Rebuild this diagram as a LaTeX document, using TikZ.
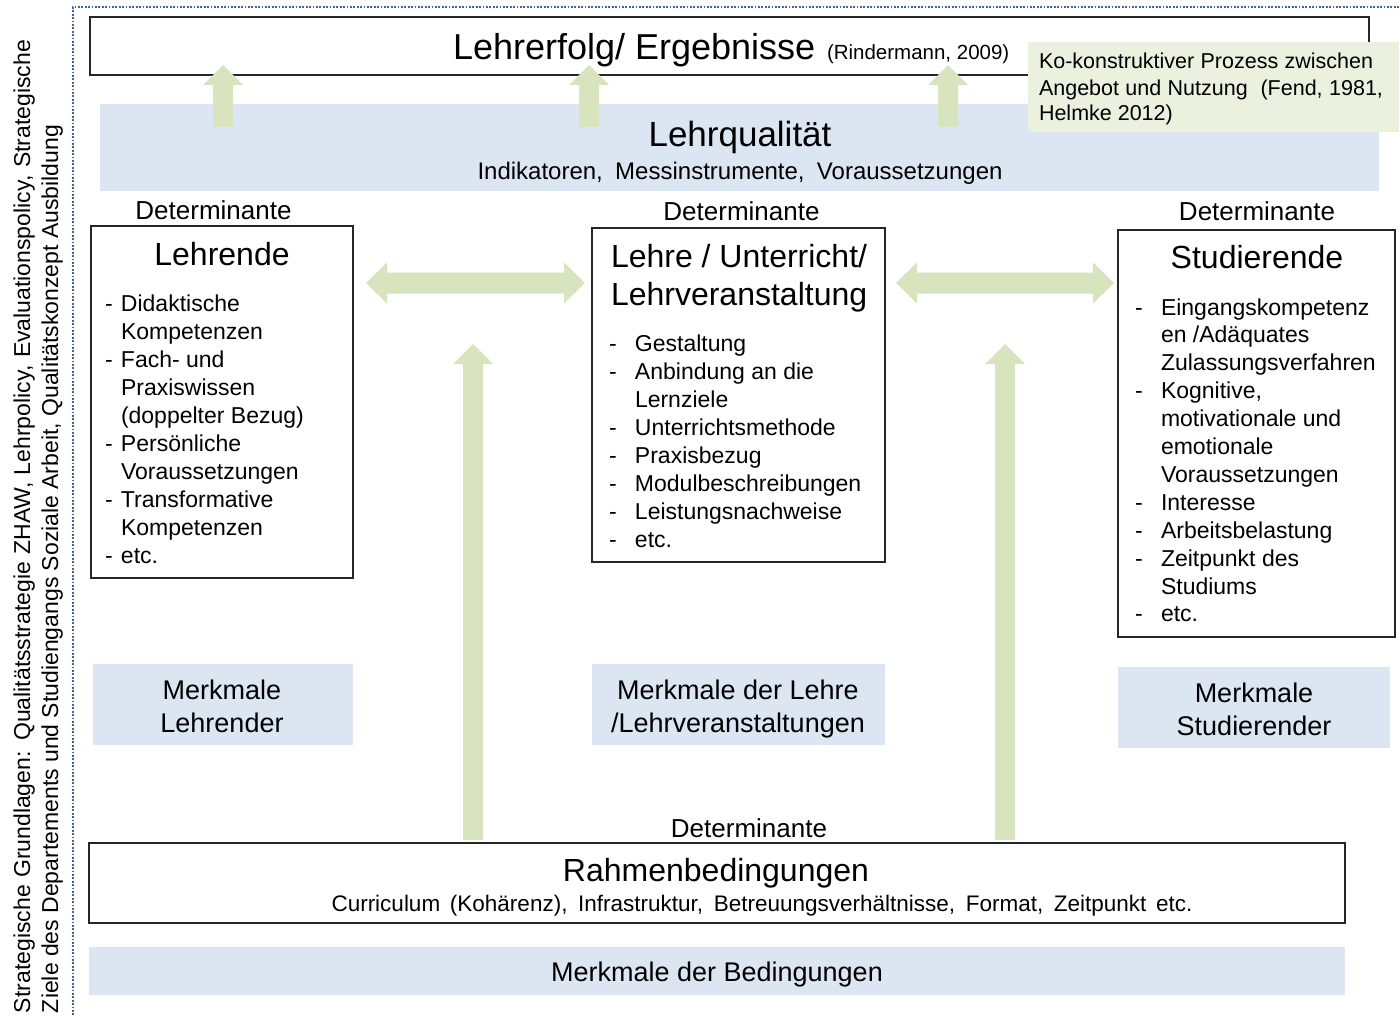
\documentclass[tikz,border=0pt]{standalone}
\usepackage{fontspec}
\setmainfont{Liberation Sans}
\definecolor{agreen}{HTML}{D7E4BD}
\definecolor{bandblue}{HTML}{DCE6F2}
\definecolor{calloutc}{HTML}{EBF1DE}
\definecolor{dotblue}{HTML}{41659A}
\newcommand\myfs[2]{\fontsize{#1}{#2}\selectfont}
\newcommand\itm[1]{\makebox[#1][l]{-}}
\newcommand\cnt[1]{\makebox[#1]{}}
\begin{document}
\begin{tikzpicture}[x=1pt,y=-1pt,
  bx/.style={draw=black!85, line width=1.4pt, anchor=north west, inner sep=0pt, outer sep=0pt},
  band/.style={fill=bandblue, anchor=north west, inner sep=0pt, outer sep=0pt},
  txt/.style={inner sep=0pt, outer sep=0pt, anchor=base},
  txtl/.style={inner sep=0pt, outer sep=0pt, anchor=base west}]
\useasboundingbox (0,0) rectangle (1399,1016);

% frame
\draw[dotblue, line width=2.8pt, dash pattern=on 1.8pt off 1.6pt] (1399,7) -- (73,7) -- (73,1016);

% side text
\node[txtl, rotate=90, font=\myfs{23}{28}] (strat1) at (30,1013)
  {\makebox[973pt][s]{Strategische Grundlagen: Qualitätsstrategie ZHAW, Lehrpolicy, Evaluationspolicy, Strategische}};
\node[txtl, rotate=90, font=\myfs{23}{28}] (strat2) at (58,1013)
  {\makebox[888pt][s]{Ziele des Departements und Studiengangs Soziale Arbeit, Qualitätskonzept Ausbildung}};

% boxes
\node[bx, minimum width=1279pt, minimum height=58pt] (top) at (90,17) {};
\node[band, minimum width=1279pt, minimum height=87pt] (lq) at (100,104) {};

% top arrows
\foreach \cx in {223,589,948}
  \fill[agreen] ({\cx-10},127) -- ({\cx-10},85) -- ({\cx-20},85) -- (\cx,65) -- ({\cx+20},85) -- ({\cx+10},85) -- ({\cx+10},127) -- cycle;

\node[fill=calloutc, anchor=north west, inner sep=0pt, minimum width=371pt, minimum height=90pt] (callout) at (1028,42) {};

\node[txtl, font=\myfs{36}{40}] (lerf) at (453,60) {Lehrerfolg/ Ergebnisse};
\node[txtl, font=\myfs{20.5}{24}] (rind) at (827,60) {(Rindermann, 2009)};

\node[txtl, font=\myfs{21.5}{26}] (c1) at (1039,68.5) {\makebox[334pt][s]{Ko-konstruktiver Prozess zwischen}};
\node[txtl, font=\myfs{21.5}{26}] (c2) at (1039,95.5) {\makebox[344pt][s]{Angebot und Nutzung\ \ (Fend, 1981,}};
\node[txtl, font=\myfs{21.5}{26}] (c3) at (1039,121) {Helmke 2012)};

\node[txt, font=\myfs{35}{40}] (lqt) at (740,146.5) {Lehrqualität};
\node[txt, font=\myfs{24}{28}] (lqs) at (740,179.5) {\makebox[525pt][s]{Indikatoren, Messinstrumente, Voraussetzungen}};

% Determinante labels
\node[txt, font=\myfs{26}{30}] (d1) at (213.5,219.5) {Determinante};
\node[txt, font=\myfs{26}{30}] (d2) at (741.5,220.5) {Determinante};
\node[txt, font=\myfs{26}{30}] (d3) at (1257,220.5) {Determinante};
\node[txt, font=\myfs{26}{30}] (d4) at (749,837.5) {Determinante};

% three main boxes
\node[bx, minimum width=262pt, minimum height=352pt] (lehrende) at (91,226) {};
\node[bx, minimum width=293pt, minimum height=334pt] (lehre) at (592,228) {};
\node[bx, minimum width=277pt, minimum height=407pt] (stud) at (1118,230) {};

\node[txt, font=\myfs{32}{37}] (t1) at (222,265.5) {Lehrende};
\node[txtl] (t2) at (611,268) {\parbox[t]{280pt}{\myfs{32}{37}Lehre / Unterricht/\\Lehrveranstaltung}};
\node[txt, font=\myfs{32}{37}] (t3) at (1257,269) {Studierende};

\node[txtl] (l1) at (105,311) {\parbox[t]{240pt}{\myfs{23}{28}%
\itm{16pt}Didaktische\\
\cnt{16pt}Kompetenzen\\
\itm{16pt}Fach- und\\
\cnt{16pt}Praxiswissen\\
\cnt{16pt}(doppelter Bezug)\\
\itm{16pt}Persönliche\\
\cnt{16pt}Voraussetzungen\\
\itm{16pt}Transformative\\
\cnt{16pt}Kompetenzen\\
\itm{16pt}etc.}};

\node[txtl] (l2) at (609,351) {\parbox[t]{270pt}{\myfs{23}{28}%
\itm{26pt}Gestaltung\\
\itm{26pt}Anbindung an die\\
\cnt{26pt}Lernziele\\
\itm{26pt}Unterrichtsmethode\\
\itm{26pt}Praxisbezug\\
\itm{26pt}Modulbeschreibungen\\
\itm{26pt}Leistungsnachweise\\
\itm{26pt}etc.}};

\node[txtl] (l3) at (1135,315) {\parbox[t]{260pt}{\myfs{23}{27.9}%
\itm{26pt}Eingangskompetenz\\
\cnt{26pt}en /Adäquates\\
\cnt{26pt}Zulassungsverfahren\\
\itm{26pt}Kognitive,\\
\cnt{26pt}motivationale und\\
\cnt{26pt}emotionale\\
\cnt{26pt}Voraussetzungen\\
\itm{26pt}Interesse\\
\itm{26pt}Arbeitsbelastung\\
\itm{26pt}Zeitpunkt des\\
\cnt{26pt}Studiums\\
\itm{26pt}etc.}};

% horizontal double arrows
\foreach \xa/\xb in {366/585, 896/1114}
  \fill[agreen] (\xa,283) -- ({\xa+21},262.5) -- ({\xa+21},272.5) -- ({\xb-21},272.5) -- ({\xb-21},262.5) -- (\xb,283)
     -- ({\xb-21},303.5) -- ({\xb-21},293.5) -- ({\xa+21},293.5) -- ({\xa+21},303.5) -- cycle;

% vertical arrows
\foreach \cx in {473,1005}
  \fill[agreen] ({\cx-10},840) -- ({\cx-10},364) -- ({\cx-20},364) -- (\cx,344) -- ({\cx+20},364) -- ({\cx+10},364) -- ({\cx+10},840) -- cycle;

% Merkmale boxes
\node[band, minimum width=260pt, minimum height=81pt] (m1) at (93,664) {};
\node[band, minimum width=293pt, minimum height=81pt] (m2) at (592,664) {};
\node[band, minimum width=272pt, minimum height=81pt] (m3) at (1118,667) {};
\node[txt, font=\myfs{27}{33}] (m1a) at (222,699) {Merkmale};
\node[txt, font=\myfs{27}{33}] (m1b) at (222,732) {Lehrender};
\node[txt, font=\myfs{27}{33}] (m2a) at (738,699) {Merkmale der Lehre};
\node[txt, font=\myfs{27}{33}] (m2b) at (738,732) {/Lehrveranstaltungen};
\node[txt, font=\myfs{27}{33}] (m3a) at (1254,702) {Merkmale};
\node[txt, font=\myfs{27}{33}] (m3b) at (1254,735) {Studierender};

% Rahmenbedingungen
\node[bx, minimum width=1256pt, minimum height=80pt] (rahmen) at (89,843) {};
\node[txt, font=\myfs{32}{37}] (r1) at (716,881.5) {Rahmenbedingungen};
\node[txt, font=\myfs{22.5}{27}] (r2) at (762,911) {\makebox[861pt][s]{Curriculum (Kohärenz), Infrastruktur, Betreuungsverhältnisse, Format, Zeitpunkt etc.}};

\node[band, minimum width=1256pt, minimum height=48pt] (mbed) at (89,947) {};
\node[txt, font=\myfs{27}{33}] (mb) at (717,981) {Merkmale der Bedingungen};
\end{tikzpicture}
\end{document}
